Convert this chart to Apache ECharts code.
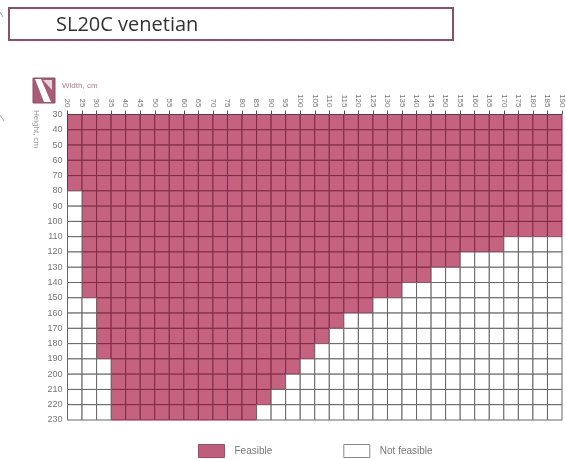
<!DOCTYPE html>
<html>
<head>
<meta charset="utf-8">
<style>
  html, body { margin: 0; padding: 0; background: #fff; }
  /* the source is a soft scan, so take the edge off everything */
  #main { width: 566px; height: 459px; filter: blur(0.65px); }
</style>
<script src="https://cdn.jsdelivr.net/npm/echarts@6/dist/echarts.min.js"></script>
</head>
<body>
<div id="main"></div>
<script>
// tick labels
const widthTicks = [20, 25, 30, 35, 40, 45, 50, 55, 60, 65, 70, 75, 80, 85, 90, 95, 100, 105, 110, 115, 120, 125, 130, 135, 140, 145, 150, 155, 160, 165, 170, 175, 180, 185, 190]
const heightTicks = [30, 40, 50, 60, 70, 80, 90, 100, 110, 120, 130, 140, 150, 160, 170, 180, 190, 200, 210, 220, 230]

// for each width column, the height where "not feasible" starts
const feasibleUpTo = [80, 150, 190, 230, 230, 230, 230, 230, 230, 230, 230, 230, 230, 220, 210, 200, 190, 180, 170, 160, 160, 150, 150, 140, 140, 130, 130, 120, 120, 120, 110, 110, 110, 110]

const feasibleCells = []
const notFeasibleCells = []
feasibleUpTo.forEach((limit, col) => {
  for (let row = 0; row < heightTicks.length - 1; row++) {
    const cell = [widthTicks[col], heightTicks[row], widthTicks[col + 1], heightTicks[row + 1]]
    if (heightTicks[row] < limit) feasibleCells.push(cell)
    else notFeasibleCells.push(cell)
  }
})

const renderCell = (params, api) => {
  const a = api.coord([api.value(0), api.value(1)])
  const b = api.coord([api.value(2), api.value(3)])
  return {
    type: 'rect',
    shape: { x: a[0], y: a[1], width: b[0] - a[0], height: b[1] - a[1] },
    style: api.style()
  }
}

const tickLabel = { fontFamily: 'Liberation Sans', color: '#777' }

const myChart = echarts.init(document.getElementById('main'))
myChart.setOption({
  animation: false,
  title: {
    text: 'SL20C venetian',
    left: 51,
    top: 10,
    textStyle: { fontFamily: 'Open Sans', fontSize: 20, fontWeight: 500, color: '#333' }
  },
  grid: { left: 67.5, right: 2, top: 114.5, bottom: 39 },
  xAxis: {
    type: 'value',
    position: 'top',
    min: 20,
    max: 190,
    interval: 5,
    axisLine: { show: false },
    axisTick: { show: true, length: 4, lineStyle: { color: '#555' } },
    splitLine: { show: false },
    axisLabel: { ...tickLabel, fontSize: 8, rotate: 90, margin: 7 }
  },
  yAxis: {
    type: 'value',
    inverse: true,
    min: 30,
    max: 230,
    interval: 10,
    axisLine: { show: false },
    axisTick: { show: false },
    splitLine: { show: false },
    axisLabel: { ...tickLabel, fontSize: 9, margin: 5 }
  },
  legend: {
    left: 198,
    top: 444,
    padding: 0,
    itemWidth: 26,
    itemHeight: 13,
    itemGap: 71,
    icon: 'rect',
    textStyle: { fontFamily: 'Liberation Sans', fontSize: 10, color: '#777', padding: [0, 0, 0, 5] },
    data: [
      { name: 'Feasible', itemStyle: { color: '#bd5e7c', borderColor: '#a04a68', borderWidth: 1 } },
      { name: 'Not feasible', itemStyle: { color: '#ffffff', borderColor: '#888888', borderWidth: 1 } }
    ]
  },
  series: [
    {
      name: 'Feasible',
      type: 'custom',
      renderItem: renderCell,
      encode: { x: [0, 2], y: [1, 3] },
      itemStyle: { color: '#c4627f', borderColor: '#7f2a46', borderWidth: 1 },
      data: feasibleCells
    },
    {
      name: 'Not feasible',
      type: 'custom',
      renderItem: renderCell,
      encode: { x: [0, 2], y: [1, 3] },
      itemStyle: { color: '#ffffff', borderColor: '#666666', borderWidth: 1 },
      data: notFeasibleCells
    }
  ],
  graphic: [
    // title box
    { type: 'rect', shape: { x: 9, y: 8, width: 444, height: 32 }, style: { fill: 'none', stroke: '#8c4f66', lineWidth: 2 } },
    // corner key
    { type: 'rect', shape: { x: 33, y: 78, width: 22, height: 25 }, style: { fill: '#a85a76', stroke: '#8c4f66', lineWidth: 1 } },
    { type: 'polygon', shape: { points: [[35, 79], [41, 79], [51, 102], [44, 102]] }, style: { fill: '#ffffff' } },
    { type: 'polygon', shape: { points: [[43, 80], [52, 80], [52, 90]] }, style: { fill: '#e8d4dc' } },
    { type: 'text', left: 62, top: 82, style: { text: 'Width, cm', fontFamily: 'Liberation Sans', fontSize: 8, fill: '#b47a90' } },
    { type: 'text', x: 40, y: 110, rotation: -Math.PI / 2, style: { text: 'Height, cm', fontFamily: 'Liberation Sans', fontSize: 8, fill: '#999' } },
    // scan marks on the left edge
    { type: 'line', shape: { x1: 0, y1: 115, x2: 4, y2: 121 }, style: { stroke: '#9aa4c4', lineWidth: 1 } },
    { type: 'line', shape: { x1: 0, y1: 12, x2: 3, y2: 17 }, style: { stroke: '#9aa4c4', lineWidth: 1 } }
  ]
})
</script>
</body>
</html>
